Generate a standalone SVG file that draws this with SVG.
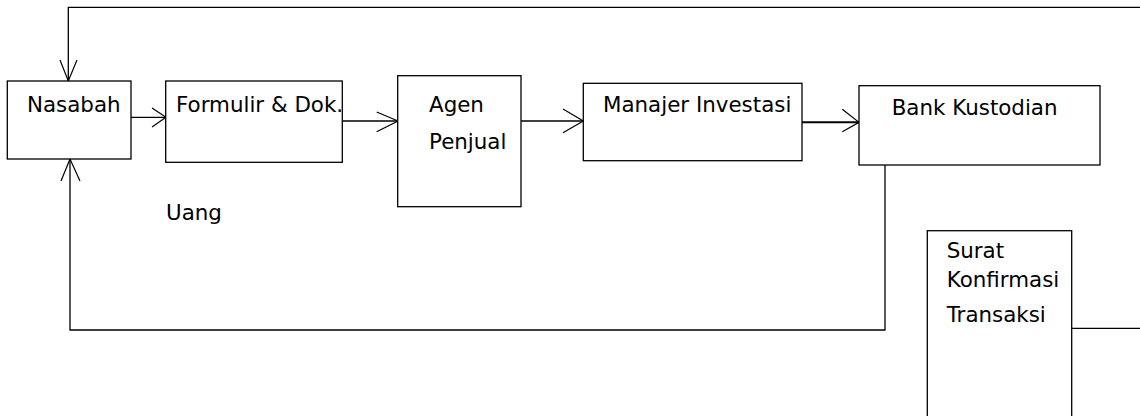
<svg xmlns="http://www.w3.org/2000/svg" width="1140" height="416" viewBox="0 0 1140 416">
<style>
.box{fill:#fff;stroke:#000;stroke-width:1.3}
.ln{fill:none;stroke:#000;stroke-width:1.3}
.ah{fill:none;stroke:#000;stroke-width:1.2}
text{font-family:"DejaVu Sans",sans-serif;font-size:21.4px;fill:#000}
</style>
<rect width="1140" height="416" fill="#fff"/>
<g id="connectors">
<path class="ln" d="M1140,7.3 H68.3 V81"/>
<path class="ah" d="M60,60 L68.3,81 L77,60"/>
<path class="ln" d="M885,165 V330 H70 V159"/>
<path class="ah" d="M61,181 L70,159 L80,181"/>
<path class="ln" d="M131,117.3 H166"/>
<path class="ah" d="M152,108 L166,117.3 L152,127"/>
<path class="ln" d="M340,121 H398"/>
<path class="ah" d="M376.7,112 L398,121 L376.7,131.7"/>
<path class="ln" d="M521,121 H583.3"/>
<path class="ah" d="M563,109 L583.3,121 L563,132.7"/>
<path class="ln" d="M800,122.3 H859" style="stroke-width:2"/>
<path class="ah" d="M842.3,109.3 L859,122.3 L842.3,131.7"/>
<path class="ln" d="M1071.7,328.3 H1140"/>
</g>
<g id="nasabah">
<rect class="box" x="7.3" y="81" width="123.7" height="78"/>
<text x="27" y="111.5">Nasabah</text>
</g>
<g id="formulir">
<rect class="box" x="165.7" y="81" width="176.6" height="81.3"/>
<text x="176" y="111.5">Formulir &amp; Dok.</text>
</g>
<g id="agen">
<rect class="box" x="397.7" y="75.7" width="123.3" height="131"/>
<text x="429" y="111.5">Agen</text>
<text x="429" y="149.3">Penjual</text>
</g>
<g id="manajer">
<rect class="box" x="583.3" y="83.3" width="218.7" height="77.4"/>
<text x="603" y="111.5">Manajer Investasi</text>
</g>
<g id="bank">
<rect class="box" x="859" y="85.7" width="241" height="79.3"/>
<text x="891.7" y="115">Bank Kustodian</text>
</g>
<g id="uang">
<text x="166" y="220">Uang</text>
</g>
<g id="surat">
<rect class="box" x="927.3" y="230.7" width="144.4" height="200"/>
<text x="946.7" y="258.3">Surat</text>
<text x="946.7" y="286.7">Konfirmasi</text>
<text x="946.7" y="321.7">Transaksi</text>
</g>
</svg>
